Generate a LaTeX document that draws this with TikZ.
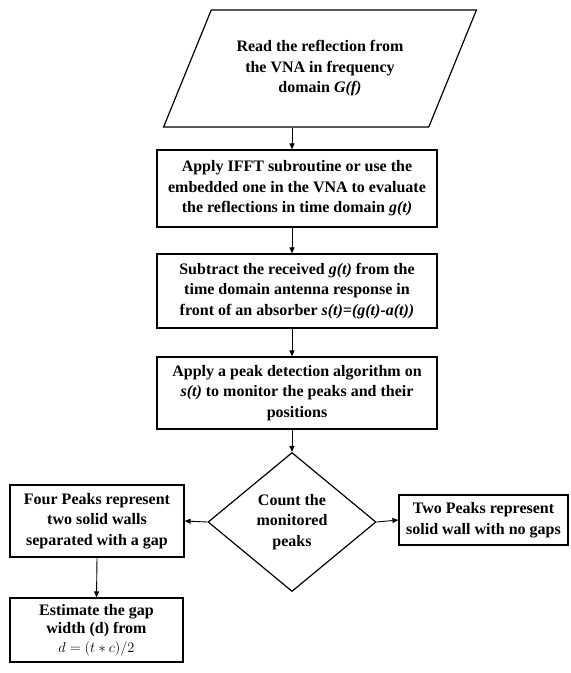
\documentclass[tikz,border=0pt]{standalone}
\usepackage{fontspec}
\setmainfont{Liberation Serif}
\usetikzlibrary{shapes.geometric,arrows.meta}
\begin{document}
\begin{tikzpicture}[x=1pt,y=-1pt,
	font=\fontsize{16}{20.5}\selectfont\bfseries,
	every node/.style={align=center,line width=1.2pt,inner sep=0pt},
	stepbox/.style={draw,rectangle},
	arr/.style={-{Triangle[length=6pt,width=5pt]},line width=0.9pt}]
	\useasboundingbox (0,0) rectangle (571,673);
	\path (292,0) coordinate (axis);
	\node[draw,trapezium,trapezium left angle=56.7,trapezium right angle=123.3,
	trapezium stretches=true,minimum width=314pt,minimum height=117pt] (read) at (320,68.5)
	{Read the reflection from\\the VNA in frequency\\domain \textit{G(f)}};
	\node[stepbox,minimum width=280pt,minimum height=77pt] (ifft) at (297,188.5)
	{Apply IFFT subroutine or use the\\embedded one in the VNA to evaluate\\the reflections in time domain \textit{g(t)}};
	\node[stepbox,minimum width=280pt,minimum height=74pt] (sub) at (297,291)
	{Subtract the received \textit{g(t)} from the\\time domain antenna response in\\front of an absorber \textit{s(t)=(g(t)-a(t))}};
	\node[stepbox,minimum width=280pt,minimum height=72pt] (peak) at (297,393)
	{Apply a peak detection algorithm on\\\textit{s(t)} to monitor the peaks and their\\positions};
	\node[draw,diamond,minimum width=168pt,minimum height=139pt] (count) at (292,522)
	{Count the\\monitored\\peaks};
	\node[stepbox,minimum width=174pt,minimum height=72pt] (four) at (97,521)
	{Four Peaks represent\\two solid walls\\separated with a gap};
	\node[stepbox,minimum width=169pt,minimum height=50pt] (two) at (483.5,520)
	{Two Peaks represent\\solid wall with no gaps};
	\node[stepbox,minimum width=173pt,minimum height=64pt,
	font=\fontsize{16}{18.5}\selectfont\bfseries] (gap) at (96.5,630)
	{Estimate the gap\\width (d) from\\{\normalfont\fontsize{15}{17}\selectfont $d=(t\ast c)/2$}};
	% connectors
	\draw[arr] (read.south -| axis) -- (ifft.north -| axis);
	\draw[arr] (ifft.south -| axis) -- (sub.north -| axis);
	\draw[arr] (sub.south -| axis) -- (peak.north -| axis);
	\draw[arr] (peak.south -| axis) -- (count.north);
	\draw[arr] (count.west) -- (four.east);
	\draw[arr] (count.east) -- (two.west);
	\draw[arr] (four.south) -- (gap.north);
\end{tikzpicture}
\end{document}
